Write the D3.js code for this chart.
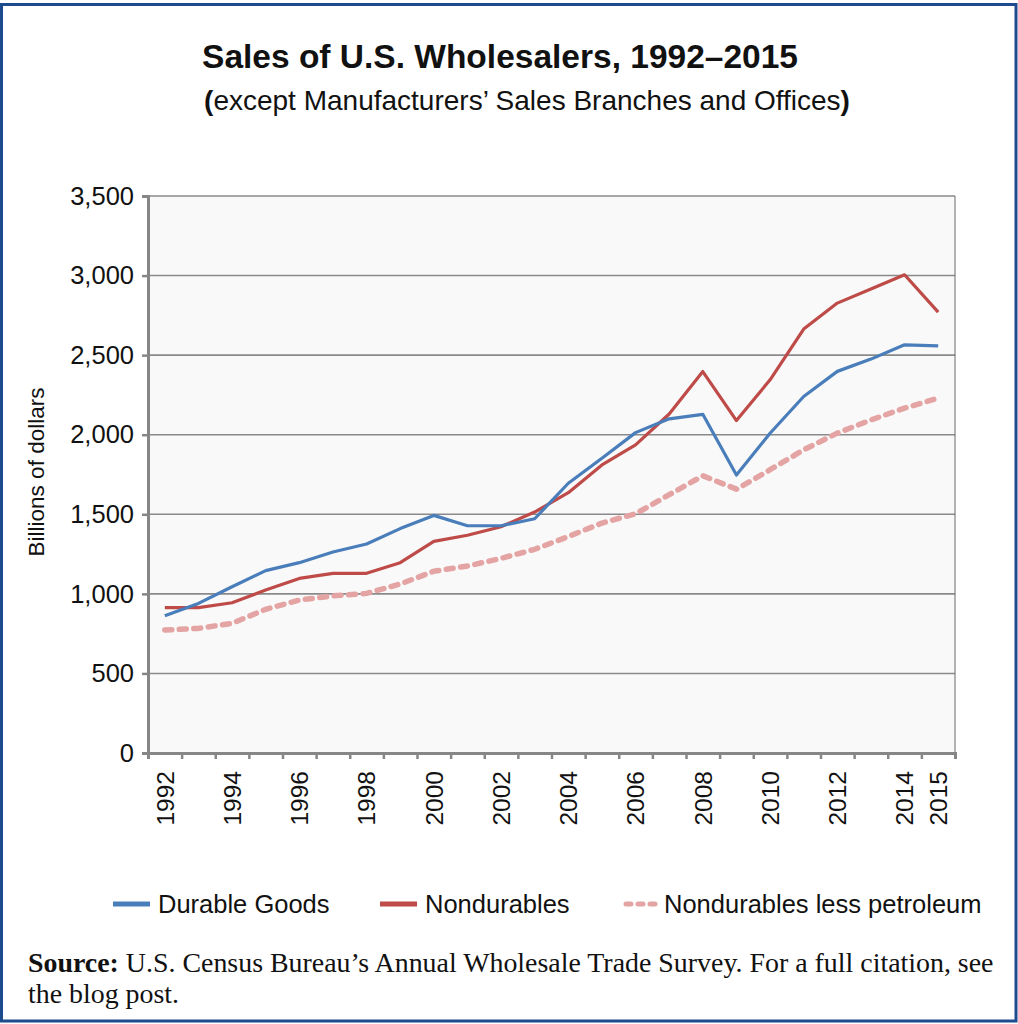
<!DOCTYPE html>
<html>
<head>
<meta charset="utf-8">
<script src="https://cdn.jsdelivr.net/npm/d3@7"></script>
<style>
  body { margin: 0; background: #fff; }
  svg text { font-family: "Liberation Sans", Arial, sans-serif; fill: #111; }
  .serif { font-family: "Liberation Serif", "Times New Roman", serif; }
</style>
</head>
<body>
<div id="chart"></div>
<script>
// values (billions of dollars)
var years = [1992, 1993, 1994, 1995, 1996, 1997, 1998, 1999, 2000, 2001, 2002, 2003,
             2004, 2005, 2006, 2007, 2008, 2009, 2010, 2011, 2012, 2013, 2014, 2015];
var durable = [863, 940, 1045, 1146, 1196, 1263, 1313, 1410, 1493, 1428, 1428, 1472,
               1695, 1852, 2013, 2100, 2128, 1747, 2009, 2240, 2398, 2475, 2565, 2558];
var nondurable = [913, 913, 944, 1024, 1097, 1129, 1129, 1196, 1330, 1368, 1422, 1514,
                  1636, 1810, 1936, 2130, 2397, 2089, 2345, 2664, 2827, 2915, 3005, 2770];
var lessPetroleum = [773, 783, 815, 903, 961, 987, 1003, 1062, 1142, 1175, 1223, 1280,
                     1360, 1445, 1503, 1623, 1742, 1658, 1780, 1905, 2010, 2093, 2167, 2230];
var yTicks = [0, 500, 1000, 1500, 2000, 2500, 3000, 3500];
var xLabels = [1992, 1994, 1996, 1998, 2000, 2002, 2004, 2006, 2008, 2010, 2012, 2014, 2015];
var seriesNames = ["Durable Goods", "Nondurables", "Nondurables less petroleum"];

var width = 1018, height = 1024;
var plot = {left: 148, right: 955, top: 196, bottom: 753};

var svg = d3.select("#chart").append("svg")
    .attr("width", width)
    .attr("height", height);

svg.append("rect")
    .attr("x", 1.5).attr("y", 4.5)
    .attr("width", 1014.5).attr("height", 1016.5)
    .attr("fill", "#fff")
    .attr("stroke", "#1c4b8e")
    .attr("stroke-width", 3);

// title
svg.append("text")
    .attr("x", 500).attr("y", 68)
    .attr("text-anchor", "middle")
    .style("font-size", "33.5px").style("font-weight", "bold")
    .text("Sales of U.S. Wholesalers, 1992\u20132015");

var sub = svg.append("text")
    .attr("x", 527).attr("y", 110)
    .attr("text-anchor", "middle")
    .style("font-size", "28px");
sub.append("tspan").style("font-weight", "bold").text("(");
sub.append("tspan").text("except Manufacturers\u2019 Sales Branches and Offices");
sub.append("tspan").style("font-weight", "bold").text(")");

var x = d3.scaleBand().domain(years).range([plot.left, plot.right]);
var cx = function(i) { return x(years[i]) + x.bandwidth() / 2; };
var y = d3.scaleLinear().domain([0, 3500]).range([plot.bottom, plot.top]);

svg.append("rect")
    .attr("x", plot.left).attr("y", plot.top)
    .attr("width", plot.right - plot.left).attr("height", plot.bottom - plot.top)
    .attr("fill", "#f9f9f9");

// gridlines
svg.append("g").selectAll("line")
    .data(yTicks.slice(1))
    .join("line")
    .attr("x1", plot.left).attr("x2", plot.right)
    .attr("y1", d => y(d)).attr("y2", d => y(d))
    .attr("stroke", "#8a8a8a")
    .attr("stroke-width", 1.6);

svg.append("line")
    .attr("x1", plot.right).attr("x2", plot.right)
    .attr("y1", plot.top).attr("y2", plot.bottom)
    .attr("stroke", "#6a6a6a").attr("stroke-width", 1);

// y axis
var yAxis = svg.append("g")
    .attr("transform", "translate(" + plot.left + ",0)")
    .call(d3.axisLeft(y).tickValues(yTicks).tickFormat(d3.format(",")).tickSize(6).tickPadding(8));
yAxis.select(".domain").attr("stroke", "#868686").attr("stroke-width", 3);
yAxis.selectAll(".tick line").attr("stroke", "#868686").attr("stroke-width", 2.5);
yAxis.selectAll(".tick text")
    .style("font-size", "25.5px").style("font-family", "Liberation Sans, Arial, sans-serif")
    .attr("fill", "#111");

svg.append("text")
    .attr("transform", "translate(44,472) rotate(-90)")
    .attr("text-anchor", "middle")
    .style("font-size", "22.5px")
    .text("Billions of dollars");

// x axis: ticks on category boundaries, labels on centres
var xb = d3.scaleLinear().domain([0, years.length]).range([plot.left, plot.right]);
var xAxis = svg.append("g")
    .attr("transform", "translate(0," + plot.bottom + ")")
    .call(d3.axisBottom(xb).tickValues(d3.range(0, years.length + 1)).tickSize(6).tickFormat(""));
xAxis.select(".domain").attr("stroke", "#868686").attr("stroke-width", 3);
xAxis.selectAll(".tick line").attr("stroke", "#868686").attr("stroke-width", 2.5);

svg.append("g").selectAll("text")
    .data(xLabels)
    .join("text")
    .attr("transform", d => "translate(" + (x(d) + x.bandwidth() / 2) + "," + (plot.bottom + 18) + ") rotate(-90)")
    .attr("text-anchor", "end")
    .attr("dy", "0.36em")
    .style("font-size", "24.5px")
    .text(d => d);

// lines
var series = [
    {name: seriesNames[0], values: durable, color: "#4a7ebb", w: 3.2, dash: null},
    {name: seriesNames[1], values: nondurable, color: "#be4b48", w: 3.2, dash: null},
    {name: seriesNames[2], values: lessPetroleum, color: "#e4a4a3", w: 5.5, dash: "7,7.5"}
];
var line = d3.line().x((d, i) => cx(i)).y(d => y(d));

series.slice().reverse().forEach(function(s) {
    svg.append("path")
        .datum(s.values)
        .attr("fill", "none")
        .attr("stroke", s.color)
        .attr("stroke-width", s.w)
        .attr("stroke-linejoin", "round")
        .attr("stroke-linecap", s.dash ? "round" : "butt")
        .attr("stroke-dasharray", s.dash)
        .attr("d", line);
});

// legend
var legendX = [113, 380, 623];
var legend = svg.append("g").selectAll("g")
    .data(series)
    .join("g")
    .attr("transform", (d, i) => "translate(" + legendX[i] + ",904)");
legend.append("line")
    .attr("x1", d => d.dash ? 3 : 0).attr("x2", d => d.dash ? 34 : 37)
    .attr("stroke", d => d.color)
    .attr("stroke-width", 5)
    .attr("stroke-linecap", d => d.dash ? "round" : "butt")
    .attr("stroke-dasharray", d => d.dash ? "5,7" : null);
legend.append("text")
    .attr("x", (d, i) => i == 2 ? 41 : 45)
    .attr("dy", "0.36em")
    .style("font-size", "25.5px")
    .text(d => d.name);

// source note
var src1 = svg.append("text").attr("class", "serif")
    .attr("x", 28).attr("y", 972)
    .style("font-size", "27.9px");
src1.append("tspan").style("font-weight", "bold").text("Source:");
src1.append("tspan").text(" U.S. Census Bureau\u2019s Annual Wholesale Trade Survey. For a full citation, see");
svg.append("text").attr("class", "serif")
    .attr("x", 28).attr("y", 1003)
    .style("font-size", "27.9px")
    .text("the blog post.");
</script>
</body>
</html>
